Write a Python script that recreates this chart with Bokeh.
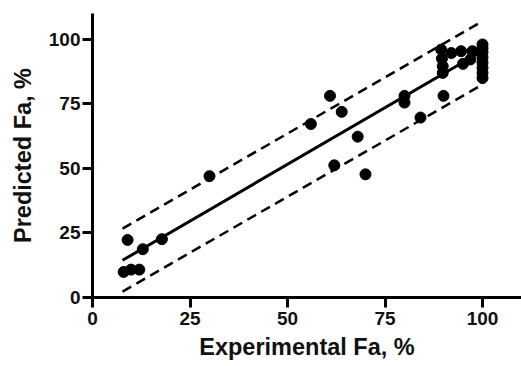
from bokeh.plotting import figure
from bokeh.models import Range1d, FixedTicker
from bokeh.embed import file_html
from bokeh.resources import INLINE

# Data
exp_fa = [8.0, 9.9, 12.0, 9.0, 12.9, 17.8, 30.0, 56.0, 60.9, 62.0, 63.9, 68.0, 70.0,
          80.0, 80.0, 84.1, 90.0, 89.8, 89.8, 89.4, 89.6, 92.0, 94.5, 97.4, 96.9, 95.0,
          100, 100, 100, 100, 100, 100, 100, 100]
pred_fa = [9.9, 10.8, 10.8, 22.3, 18.7, 22.6, 47.0, 67.2, 78.1, 51.2, 71.9, 62.3, 47.7,
           78.1, 75.5, 69.7, 78.1, 89.6, 87.0, 96.0, 92.5, 94.7, 95.4, 95.4, 92.2, 90.5,
           98.0, 96.5, 95.0, 93.0, 91.0, 89.0, 87.0, 85.0]

# Regression line and prediction band (endpoints)
fit_x = [7.7, 100]
fit_y = [14.4, 95.5]
upper_y = [26.7, 107.0]
lower_y = [2.3, 82.5]

ticks = [0, 25, 50, 75, 100]
x_label = "Experimental Fa, %"
y_label = "Predicted Fa, %"

FONT = "Liberation Sans"

p = figure(width=521, height=366, output_backend="svg", toolbar_location=None,
           x_range=Range1d(0, 110), y_range=Range1d(0, 110),
           min_border_left=92, min_border_right=0, min_border_top=13, min_border_bottom=69)
p.outline_line_color = None
p.grid.visible = False

p.line(fit_x, upper_y, line_color="black", line_width=2.5, line_dash="10 6")
p.line(fit_x, lower_y, line_color="black", line_width=2.5, line_dash="10 6")
p.line(fit_x, fit_y, line_color="black", line_width=3)
p.scatter(exp_fa, pred_fa, size=11, color="black")

for ax in (p.xaxis, p.yaxis):
    ax.ticker = FixedTicker(ticks=ticks)
    ax.axis_line_width = 3
    ax.major_tick_line_width = 3
    ax.major_tick_out = 10
    ax.major_tick_in = 0
    ax.minor_tick_out = 0
    ax.minor_tick_in = 0
    ax.major_label_text_font = FONT
    ax.major_label_text_font_style = "bold"
    ax.major_label_text_font_size = "19px"
    ax.major_label_text_color = "#111111"
    ax.axis_label_text_font = FONT
    ax.axis_label_text_font_style = "bold"
    ax.axis_label_text_font_size = "23.5px"
    ax.axis_label_text_color = "#111111"

p.xaxis.axis_label = x_label
p.yaxis.axis_label = y_label
p.xaxis.major_label_standoff = 4
p.yaxis.major_label_standoff = 2
p.xaxis.axis_label_standoff = 6
p.yaxis.axis_label_standoff = 10

open("out.html", "w").write(file_html(p, INLINE))
